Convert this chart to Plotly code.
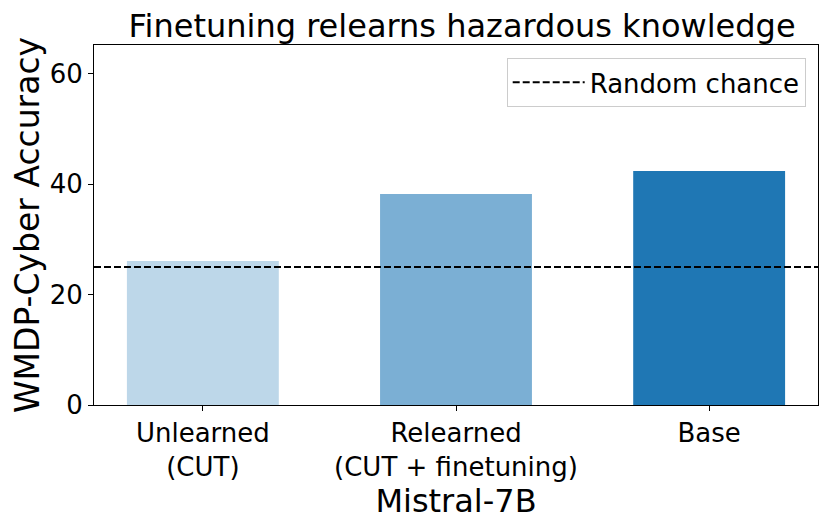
import plotly.graph_objects as go

categories = ["Unlearned<br>(CUT)", "Relearned<br>(CUT + finetuning)", "Base"]
accuracy = [26.1, 38.2, 42.4]
bar_colors = ["#bdd7e9", "#7bafd4", "#1f77b4"]
random_chance = 25.0
y_ticks = [0, 20, 40, 60]

x_idx = list(range(len(categories)))
x_lo, x_hi = -0.43, len(categories) - 1 + 0.43

fig = go.Figure()
fig.add_trace(go.Bar(
    x=x_idx, y=accuracy, width=0.6,
    marker=dict(color=bar_colors, line=dict(width=0)),
    showlegend=False,
))
fig.add_trace(go.Scatter(
    x=[x_lo, x_hi], y=[random_chance, random_chance],
    mode="lines", name="Random chance",
    line=dict(color="black", width=2, dash="7px,3px"),
))

font = "DejaVu Sans"
fig.update_layout(
    width=830, height=521,
    margin=dict(l=86, r=20, t=37, b=124),
    paper_bgcolor="white", plot_bgcolor="white",
    font=dict(family=font, color="black", size=26),
    title=dict(text="Finetuning relearns hazardous knowledge", x=0.547, xanchor="center",
               y=0.988, yanchor="top", font=dict(size=32, family=font)),
    legend=dict(x=0.983, y=0.964, xanchor="right", yanchor="top", itemwidth=72,
                bgcolor="rgba(255,255,255,0.8)", bordercolor="#cccccc", borderwidth=1,
                font=dict(size=26, family=font)),
    xaxis=dict(range=[x_lo, x_hi], tickvals=x_idx, ticktext=categories,
               ticks="outside", ticklen=5, tickcolor="black", showline=True, linecolor="black",
               linewidth=1, mirror=True, showgrid=False, zeroline=False,
               title=dict(text="Mistral-7B", font=dict(size=32, family=font), standoff=0),
               tickfont=dict(size=26)),
    yaxis=dict(range=[0, 65.2], tickvals=y_ticks, ticks="outside", ticklen=5, tickcolor="black",
               showline=True, linecolor="black", linewidth=1, mirror=True, showgrid=False,
               zeroline=False,
               title=dict(text="WMDP-Cyber Accuracy", font=dict(size=33, family=font), standoff=8),
               tickfont=dict(size=26)),
)
fig.write_html("out.html")
